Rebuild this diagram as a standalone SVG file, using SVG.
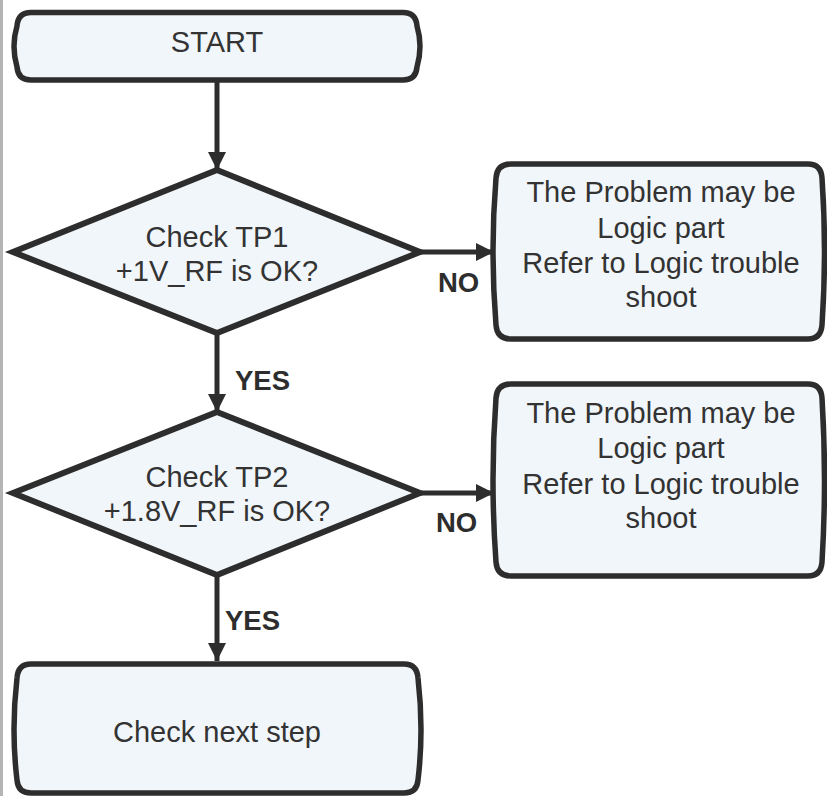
<svg xmlns="http://www.w3.org/2000/svg" width="827" height="796" viewBox="0 0 827 796">
<defs>
<style>
.box{fill:#f1f6fa;stroke:#2d2d2d;stroke-width:5.5;stroke-linejoin:round}
.dia{fill:#f1f6fa;stroke:#2d2d2d;stroke-width:6;stroke-linejoin:miter}
.t{font-family:"Liberation Sans",Arial,sans-serif;font-size:29px;fill:#333;text-anchor:middle}
.lbl{font-family:"Liberation Sans",Arial,sans-serif;font-size:27.5px;font-weight:bold;fill:#2d2d2d}
.conn{stroke:#2d2d2d;stroke-width:5;fill:none}
</style>
<marker id="ah" markerUnits="userSpaceOnUse" markerWidth="20" markerHeight="20" viewBox="0 0 20 20" refX="18" refY="10" orient="auto">
<path d="M0,1 L18,10 L0,19 Z" fill="#2d2d2d"/>
</marker>
</defs>
<rect x="0" y="0" width="3" height="796" fill="#b4b4b4"/>
<g id="start">
<path class="box" d="M31,12.5 H403 Q416,12.5 417,26 Q423,46 417,67 Q416,80 403,80 H31 Q18,80 17,67 Q11,46 17,26 Q18,12.5 31,12.5 Z"/>
<text class="t" x="217" y="52">START</text>
</g>
<g id="check1">
<polygon class="dia" points="217,170 420,252 217,333 13,252"/>
<text class="t" x="217" y="247">Check TP1</text>
<text class="t" x="217" y="281">+1V_RF is OK?</text>
</g>
<g id="logic1">
<path class="box" d="M511,164 H808 Q821,164 822,178 Q827,251 822,325 Q821,339 808,339 H511 Q497,339 496,325 Q490,251 496,178 Q497,164 511,164 Z"/>
<text class="t" x="661" y="202">The Problem may be</text>
<text class="t" x="661" y="238">Logic part</text>
<text class="t" x="661" y="273">Refer to Logic trouble</text>
<text class="t" x="661" y="307">shoot</text>
</g>
<g id="check2">
<polygon class="dia" points="217,412 420,493 217,575 13,493"/>
<text class="t" x="217" y="487">Check TP2</text>
<text class="t" x="217" y="521">+1.8V_RF is OK?</text>
</g>
<g id="logic2">
<path class="box" d="M511,384 H808 Q821,384 822,398 Q827,480 822,562 Q821,576 808,576 H511 Q497,576 496,562 Q490,480 496,398 Q497,384 511,384 Z"/>
<text class="t" x="661" y="423">The Problem may be</text>
<text class="t" x="661" y="458">Logic part</text>
<text class="t" x="661" y="494">Refer to Logic trouble</text>
<text class="t" x="661" y="528">shoot</text>
</g>
<g id="next">
<path class="box" d="M31,664 H404 Q417,664 418,678 Q424,730 418,780 Q417,793 404,793 H31 Q18,793 17,780 Q11,730 17,678 Q18,664 31,664 Z"/>
<text class="t" x="217" y="742">Check next step</text>
</g>
<g id="connectors">
<line class="conn" x1="217" y1="82" x2="217" y2="170" marker-end="url(#ah)"/>
<line class="conn" x1="217" y1="335" x2="217" y2="412" marker-end="url(#ah)"/>
<line class="conn" x1="217" y1="577" x2="217" y2="661" marker-end="url(#ah)"/>
<line class="conn" x1="421" y1="252" x2="494" y2="252" marker-end="url(#ah)"/>
<line class="conn" x1="421" y1="493" x2="494" y2="493" marker-end="url(#ah)"/>
<text class="lbl" x="438" y="292">NO</text>
<text class="lbl" x="235" y="390">YES</text>
<text class="lbl" x="436" y="532">NO</text>
<text class="lbl" x="225" y="630">YES</text>
</g>
</svg>
